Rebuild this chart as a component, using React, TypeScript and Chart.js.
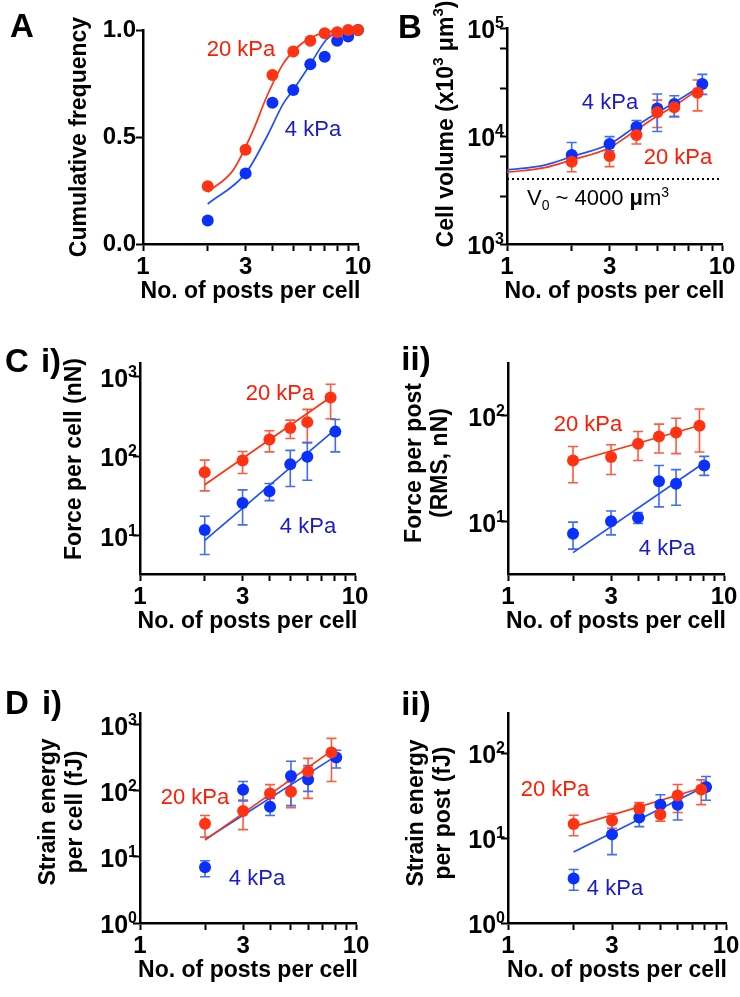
import React, { useEffect, useRef } from 'react';
import { Chart, registerables } from 'chart.js';
Chart.register(...registerables);

const FONT = '"Liberation Sans", Arial, Helvetica, sans-serif';
const RED = '#FF3311';
const RED_ERR = '#FF5A3D';
const RED_TXT = '#FF1A00';
const BLUE = '#0A30FF';
const BLUE_LINE = '#1F4FFF';
const BLUE_ERR = '#3F6BFF';
const BLUE_TXT = '#1A1ACC';

// ---------- shared x axis ----------
const xTickValues = [1, 2, 3, 4, 5, 6, 7, 8, 9, 10];
const xTickLabels = ['1', '', '3', '', '', '', '', '', '', '10'];
const postsRed = [2, 3, 4, 5, 6, 7.7];
const postsBlue = [2, 3, 4, 5, 6, 8.1];
const fitX20 = [2, 7.7];
const fitX4 = [2, 8.1];

// ---------- A: cumulative frequency ----------
const postsA = [2, 3, 4, 5, 6, 7, 8, 9, 10];
const cumFreq20 = [0.27, 0.44, 0.79, 0.9, 0.95, 0.985, 0.99, 1.0, 1.0];
const cumFreq4 = [0.11, 0.33, 0.66, 0.72, 0.84, 0.875, 0.95, 0.97, 1.0];
const cumFitX20 = [2, 2.63, 3.26, 3.76, 4.5, 5.37, 6.43, 7.6, 9];
const cumFit20 = [0.243, 0.346, 0.533, 0.688, 0.844, 0.93, 0.977, 0.995, 1.0];
const cumFitX4 = [2, 3, 3.76, 4.5, 5, 6, 7.1, 8.2];
const cumFit4 = [0.187, 0.33, 0.5, 0.657, 0.72, 0.84, 0.953, 1.0];
const cumTicks = [0, 0.5, 1];
const cumTickLabels = ['0.0', '0.5', '1.0'];

// ---------- B: cell volume ----------
const vol4 = [6670, 8430, 12100, 18000, 19800, 30300];
const vol4Lo = [5500, 7300, 11000, 11000, 15100, 24300];
const vol4Hi = [8700, 9860, 13900, 24500, 23600, 37200];
const vol20 = [5780, 6530, 10200, 16600, 18500, 25200];
const vol20Lo = [4670, 5200, 8430, 12000, 15100, 17100];
const vol20Hi = [6810, 8430, 12200, 21500, 20500, 33000];
const volFitX4 = [1, 1.5, 2, 3, 4, 5, 6, 8.1];
const volFit4 = [4840, 5380, 6440, 8430, 12400, 16400, 20400, 29600];
const volFitX20 = [1, 1.5, 2, 3, 4, 5, 6, 7.7];
const volFit20 = [4610, 5090, 6000, 7800, 11400, 15300, 19000, 26700];
const v0X = [1, 10];
const v0Y = [4000, 4000];
const volTicks = [1000, 10000, 100000];
const volMinorTicks = [2750, 6500, 27500, 65000];

// ---------- C i: force per cell ----------
const fCell20 = [63, 88.7, 163, 227, 270, 550];
const fCell20Lo = [36.8, 60.8, 114, 168, 149, 298];
const fCell20Hi = [89.6, 115, 210, 286, 391, 809];
const fCell4 = [11.8, 25.9, 36.4, 79.8, 98.8, 205];
const fCell4Lo = [5.8, 13.7, 27.7, 41.7, 50, 114];
const fCell4Hi = [17.6, 37.8, 45.5, 119, 149, 292];
const fCellFit20 = [44, 555];
const fCellFit4 = [8.75, 219];
const fCellTicks = [10, 100, 1000];

// ---------- C ii: force per post ----------
const fPost20 = [37.8, 40.8, 54.6, 63.8, 69.7, 80.5];
const fPost20Lo = [23.3, 27.9, 37.8, 44.6, 44, 45.6];
const fPost20Hi = [51.4, 53.4, 71.1, 83.5, 95, 116];
const fPost4 = [7.7, 10.1, 10.9, 24.1, 22.8, 34];
const fPost4Lo = [5.5, 7.5, 9.6, 13.8, 14.3, 27.4];
const fPost4Hi = [9.9, 12.6, 12.2, 34, 31, 41.4];
const fPostFit20 = [36.6, 81];
const fPostFit4 = [5.1, 36];
const fPostTicks = [10, 100];

// ---------- D i: strain energy per cell ----------
const eCell20 = [31.7, 49.5, 90.8, 96.3, 195, 379];
const eCell20Lo = [19.9, 25.8, 57.5, 55.6, 76.6, 138];
const eCell20Hi = [42.2, 72.3, 124, 135, 309, 620];
const eCell4 = [6.95, 104, 57.5, 167, 148, 319];
const eCell4Lo = [5.0, 70, 42.3, 59.6, 98, 221];
const eCell4Hi = [8.75, 138, 76.6, 279, 240, 410];
const eCellFit20 = [17.9, 401];
const eCellFit4 = [18.3, 337];
const eCellTicks = [1, 10, 100, 1000];

// ---------- D ii: strain energy per post ----------
const ePost20 = [14.7, 16.2, 22.4, 19.05, 32, 37.6];
const ePost20Lo = [10.7, 13.1, 18.4, 15.9, 20.1, 24.9];
const ePost20Hi = [18.7, 19.6, 26.3, 23.4, 43, 48.8];
const ePost4 = [3.35, 11.1, 17.5, 24.9, 24.9, 40.1];
const ePost4Lo = [2.43, 6.4, 13.7, 18.4, 16.4, 28];
const ePost4Hi = [4.27, 15.7, 20.5, 32.6, 31, 53.4];
const ePostFit20 = [13.7, 39.1];
const ePostFit4 = [6.87, 41.2];
const ePostTicks = [1, 10, 100];

// ---------- text helpers ----------
type Part = { t: string; size: number; weight: string; dy?: number };
const b = (t: string, size = 23): Part => ({ t, size, weight: 'bold' });
const r = (t: string, size = 22): Part => ({ t, size, weight: 'normal' });
const sup = (t: string, size = 15, weight = 'bold', dy = -10): Part => ({ t, size, weight, dy });

type TextItem = { parts: Part[]; x: number; y: number; align?: string; color?: string; rot?: boolean };

function drawRich(ctx: CanvasRenderingContext2D, parts: Part[], x: number, y: number, align: string, color: string) {
  let w = 0;
  for (const p of parts) {
    ctx.font = `${p.weight} ${p.size}px ${FONT}`;
    w += ctx.measureText(p.t).width;
  }
  let cx = align === 'center' ? x - w / 2 : align === 'right' ? x - w : x;
  ctx.fillStyle = color;
  ctx.textAlign = 'left';
  ctx.textBaseline = 'alphabetic';
  for (const p of parts) {
    ctx.font = `${p.weight} ${p.size}px ${FONT}`;
    ctx.fillText(p.t, cx, y + (p.dy || 0));
    cx += ctx.measureText(p.t).width;
  }
}

function drawItem(ctx: CanvasRenderingContext2D, it: TextItem) {
  const size = it.parts[0].size;
  const color = it.color || '#000';
  const align = it.align || 'center';
  ctx.save();
  if (it.rot) {
    ctx.translate(it.x, it.y);
    ctx.rotate(-Math.PI / 2);
    drawRich(ctx, it.parts, 0, 0.36 * size, align, color);
  } else {
    drawRich(ctx, it.parts, it.x, it.y + 0.36 * size, align, color);
  }
  ctx.restore();
}

const xTitle = [b('No. of posts per cell')];

type Series = { x: number[]; y: number[]; lo?: number[]; hi?: number[]; color: string; err?: string };
type Fit = { x: number[]; y: number[]; color: string; smooth?: boolean; dash?: number[]; width?: number };
type Spec = {
  area: { l: number; t: number; r: number; b: number };
  yType: 'linear' | 'logarithmic';
  yMin: number;
  yMax: number;
  yTicks: number[];
  yMinor?: number[];
  yLabels?: string[];
  series: Series[];
  fits: Fit[];
  texts: TextItem[];
};

const specs: Spec[] = [
  {
    area: { l: 143, t: 30, r: 358, b: 244 },
    yType: 'linear', yMin: 0, yMax: 1, yTicks: cumTicks, yLabels: cumTickLabels,
    fits: [
      { x: cumFitX4, y: cumFit4, color: BLUE_LINE, smooth: true },
      { x: cumFitX20, y: cumFit20, color: RED, smooth: true },
    ],
    series: [
      { x: postsA, y: cumFreq4, color: BLUE },
      { x: postsA, y: cumFreq20, color: RED },
    ],
    texts: [
      { parts: [b('A', 33)], x: 22, y: 25 },
      { parts: [b('Cumulative frequency')], x: 78, y: 137, rot: true },
      { parts: xTitle, x: 250.5, y: 290 },
      { parts: [r('20 kPa')], x: 241, y: 48, color: RED_TXT },
      { parts: [r('4 kPa')], x: 313, y: 128, color: BLUE_TXT },
    ],
  },
  {
    area: { l: 507, t: 28, r: 722, b: 244 },
    yType: 'logarithmic', yMin: 1000, yMax: 100000, yTicks: volTicks, yMinor: volMinorTicks,
    fits: [
      { x: v0X, y: v0Y, color: '#000', dash: [2, 3], width: 2 },
      { x: volFitX4, y: volFit4, color: BLUE_LINE, smooth: true },
      { x: volFitX20, y: volFit20, color: RED, smooth: true },
    ],
    series: [
      { x: postsBlue, y: vol4, lo: vol4Lo, hi: vol4Hi, color: BLUE, err: BLUE_ERR },
      { x: postsRed, y: vol20, lo: vol20Lo, hi: vol20Hi, color: RED, err: RED_ERR },
    ],
    texts: [
      { parts: [b('B', 33)], x: 410, y: 26 },
      { parts: [b('Cell volume (x10'), sup('3'), b(' \u03BCm'), sup('3'), b(')')], x: 445, y: 124, rot: true },
      { parts: xTitle, x: 614.5, y: 290 },
      { parts: [r('4 kPa')], x: 610, y: 101, color: BLUE_TXT },
      { parts: [r('20 kPa')], x: 678, y: 156, color: RED_TXT },
      { parts: [r('V', 22), sup('0', 14, 'normal', 5), r(' ~ 4000 '), b('\u03BC', 22), r('m'), sup('3', 14, 'normal', -8)], x: 527, y: 197, align: 'left' },
    ],
  },
  {
    area: { l: 140, t: 363, r: 355, b: 574 },
    yType: 'logarithmic', yMin: 3.3, yMax: 1500, yTicks: fCellTicks,
    fits: [
      { x: fitX4, y: fCellFit4, color: BLUE_LINE },
      { x: fitX20, y: fCellFit20, color: RED },
    ],
    series: [
      { x: postsBlue, y: fCell4, lo: fCell4Lo, hi: fCell4Hi, color: BLUE, err: BLUE_ERR },
      { x: postsRed, y: fCell20, lo: fCell20Lo, hi: fCell20Hi, color: RED, err: RED_ERR },
    ],
    texts: [
      { parts: [b('C', 33)], x: 17, y: 360 },
      { parts: [b('i)', 33)], x: 51, y: 360 },
      { parts: [b('Force per cell (nN)')], x: 73, y: 459, rot: true },
      { parts: xTitle, x: 247.5, y: 620 },
      { parts: [r('20 kPa')], x: 280, y: 392, color: RED_TXT },
      { parts: [r('4 kPa')], x: 308, y: 525, color: BLUE_TXT },
    ],
  },
  {
    area: { l: 508, t: 363, r: 724, b: 574 },
    yType: 'logarithmic', yMin: 3.2, yMax: 316, yTicks: fPostTicks,
    fits: [
      { x: fitX4, y: fPostFit4, color: BLUE_LINE },
      { x: fitX20, y: fPostFit20, color: RED },
    ],
    series: [
      { x: postsBlue, y: fPost4, lo: fPost4Lo, hi: fPost4Hi, color: BLUE, err: BLUE_ERR },
      { x: postsRed, y: fPost20, lo: fPost20Lo, hi: fPost20Hi, color: RED, err: RED_ERR },
    ],
    texts: [
      { parts: [b('ii)', 33)], x: 416, y: 358 },
      { parts: [b('Force per post')], x: 413, y: 463, rot: true },
      { parts: [b('(RMS, nN)')], x: 439, y: 463, rot: true },
      { parts: xTitle, x: 616, y: 620 },
      { parts: [r('20 kPa')], x: 588, y: 423, color: RED_TXT },
      { parts: [r('4 kPa')], x: 667, y: 547, color: BLUE_TXT },
    ],
  },
  {
    area: { l: 140, t: 713, r: 356, b: 923 },
    yType: 'logarithmic', yMin: 1, yMax: 1500, yTicks: eCellTicks,
    fits: [
      { x: fitX4, y: eCellFit4, color: BLUE_LINE },
      { x: fitX20, y: eCellFit20, color: RED },
    ],
    series: [
      { x: postsBlue, y: eCell4, lo: eCell4Lo, hi: eCell4Hi, color: BLUE, err: BLUE_ERR },
      { x: postsRed, y: eCell20, lo: eCell20Lo, hi: eCell20Hi, color: RED, err: RED_ERR },
    ],
    texts: [
      { parts: [b('D', 33)], x: 17, y: 702 },
      { parts: [b('i)', 33)], x: 52, y: 702 },
      { parts: [b('Strain energy')], x: 47, y: 812, rot: true },
      { parts: [b('per cell (fJ)')], x: 74, y: 812, rot: true },
      { parts: xTitle, x: 248, y: 969 },
      { parts: [r('20 kPa')], x: 195, y: 796, color: RED_TXT },
      { parts: [r('4 kPa')], x: 257, y: 877, color: BLUE_TXT },
    ],
  },
  {
    area: { l: 508, t: 713, r: 726, b: 923 },
    yType: 'logarithmic', yMin: 1, yMax: 300, yTicks: ePostTicks,
    fits: [
      { x: fitX4, y: ePostFit4, color: BLUE_LINE },
      { x: fitX20, y: ePostFit20, color: RED },
    ],
    series: [
      { x: postsBlue, y: ePost4, lo: ePost4Lo, hi: ePost4Hi, color: BLUE, err: BLUE_ERR },
      { x: postsRed, y: ePost20, lo: ePost20Lo, hi: ePost20Hi, color: RED, err: RED_ERR },
    ],
    texts: [
      { parts: [b('ii)', 33)], x: 416, y: 703 },
      { parts: [b('Strain energy')], x: 415, y: 813, rot: true },
      { parts: [b('per post (fJ)')], x: 442, y: 813, rot: true },
      { parts: xTitle, x: 617, y: 969 },
      { parts: [r('20 kPa')], x: 555, y: 788, color: RED_TXT },
      { parts: [r('4 kPa')], x: 615, y: 887, color: BLUE_TXT },
    ],
  },
];

const W = 740;
const H = 997;
const XBOX = 40; // height reserved for x tick labels
const YBOX = 70; // width reserved for y tick labels

function buildConfig(spec: Spec): any {
  const layers: any[] = [];
  spec.fits.forEach((f) =>
    layers.push({
      type: 'line',
      data: f.x.map((x, i) => ({ x, y: f.y[i] })),
      borderColor: f.color,
      borderWidth: f.width ?? 1.7,
      borderDash: f.dash ?? [],
      pointRadius: 0,
      pointHoverRadius: 0,
      showLine: true,
      fill: false,
      tension: 0,
      cubicInterpolationMode: f.smooth ? 'monotone' : 'default',
      clip: false,
    })
  );
  spec.series.forEach((s) =>
    layers.push({
      type: 'line',
      data: s.x.map((x, i) => ({ x, y: s.y[i] })),
      showLine: false,
      pointRadius: 6,
      pointHoverRadius: 6,
      pointBorderWidth: 0,
      pointBackgroundColor: s.color,
      backgroundColor: s.color,
      borderColor: s.color,
      clip: false,
      errLo: s.lo,
      errHi: s.hi,
      errColor: s.err,
    })
  );
  const datasets = layers.reverse();

  const majors = spec.yTicks;
  const minors = spec.yMinor || [];

  const overlay = {
    id: 'overlay',
    beforeDatasetsDraw(chart: any) {
      const ctx = chart.ctx;
      const xs = chart.scales.x;
      const ys = chart.scales.y;
      chart.data.datasets.forEach((ds: any) => {
        if (!ds.errLo) return;
        ctx.save();
        ctx.strokeStyle = ds.errColor;
        ctx.lineWidth = 1.6;
        ds.data.forEach((pt: any, j: number) => {
          const px = xs.getPixelForValue(pt.x);
          const lo = ys.getPixelForValue(ds.errLo[j]);
          const hi = ys.getPixelForValue(ds.errHi[j]);
          ctx.beginPath();
          ctx.moveTo(px, lo);
          ctx.lineTo(px, hi);
          ctx.moveTo(px - 5, lo);
          ctx.lineTo(px + 5, lo);
          ctx.moveTo(px - 5, hi);
          ctx.lineTo(px + 5, hi);
          ctx.stroke();
        });
        ctx.restore();
      });
    },
    afterDraw(chart: any) {
      const ctx = chart.ctx;
      if (spec.yType === 'logarithmic') {
        const ys = chart.scales.y;
        for (const v of majors) {
          const py = ys.getPixelForValue(v);
          const e = Math.round(Math.log10(v));
          ctx.save();
          drawRich(ctx, [b('10', 25), sup(String(e), 16, 'bold', -10)], chart.chartArea.left - 3, py + 10, 'right', '#000');
          ctx.restore();
        }
      }
      spec.texts.forEach((t) => drawItem(ctx, t));
    },
  };

  const tickFont = { family: FONT, size: 24, weight: 'bold' as const };

  return {
    type: 'line',
    data: { datasets },
    plugins: [overlay],
    options: {
      responsive: false,
      animation: false,
      devicePixelRatio: 1,
      events: [],
      layout: {
        padding: {
          left: spec.area.l - YBOX,
          top: spec.area.t,
          right: W - spec.area.r,
          bottom: H - spec.area.b - XBOX,
        },
      },
      plugins: { legend: { display: false }, tooltip: { enabled: false } },
      scales: {
        x: {
          type: 'logarithmic',
          position: 'bottom',
          min: 1,
          max: 10,
          afterBuildTicks: (s: any) => {
            s.ticks = xTickValues.map((v) => ({ value: v, major: false }));
          },
          afterFit: (s: any) => {
            s.height = XBOX;
            s.paddingLeft = 0;
            s.paddingRight = 0;
          },
          ticks: {
            autoSkip: false,
            maxRotation: 0,
            minRotation: 0,
            padding: 2,
            color: '#000',
            font: tickFont,
            callback: (v: any) => {
              const i = xTickValues.indexOf(Number(v));
              return i >= 0 ? xTickLabels[i] : '';
            },
          },
          grid: { display: true, drawOnChartArea: false, drawTicks: true, tickLength: 7, tickWidth: 2, tickColor: '#000' },
          border: { display: true, color: '#000', width: 2.5 },
        },
        y: {
          type: spec.yType,
          position: 'left',
          min: spec.yMin,
          max: spec.yMax,
          afterBuildTicks: (s: any) => {
            s.ticks = [...majors, ...minors].map((v) => ({ value: v, major: false }));
          },
          afterFit: (s: any) => {
            s.width = YBOX;
            s.paddingTop = 0;
            s.paddingBottom = 0;
          },
          ticks: {
            display: spec.yType === 'linear',
            autoSkip: false,
            padding: 0,
            color: '#000',
            font: tickFont,
            callback: (v: any) => {
              if (!spec.yLabels) return '';
              const i = majors.indexOf(Number(v));
              return i >= 0 ? spec.yLabels[i] : '';
            },
          },
          grid: { display: true, drawOnChartArea: false, drawTicks: true, tickLength: 7, tickWidth: 2, tickColor: '#000' },
          border: { display: true, color: '#000', width: 2.5 },
        },
      },
    },
  };
}

function Panel({ spec }: { spec: Spec }) {
  const ref = useRef<HTMLCanvasElement | null>(null);
  useEffect(() => {
    if (!ref.current) return;
    const chart = new Chart(ref.current, buildConfig(spec));
    return () => chart.destroy();
  }, [spec]);
  return (
    <canvas
      ref={ref}
      width={W}
      height={H}
      style={{ position: 'absolute', left: 0, top: 0, width: W, height: H }}
    />
  );
}

export default function App() {
  return (
    <div style={{ position: 'absolute', left: 0, top: 0, width: W, height: H, background: '#fff', overflow: 'hidden' }}>
      {specs.map((s, i) => (
        <Panel key={i} spec={s} />
      ))}
    </div>
  );
}
